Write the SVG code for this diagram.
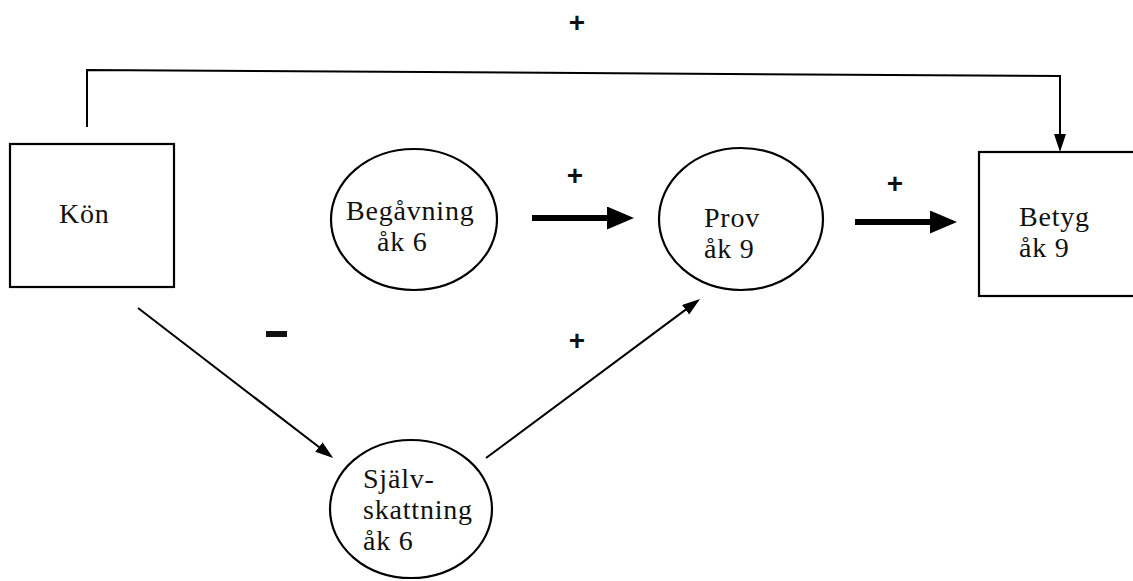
<svg xmlns="http://www.w3.org/2000/svg" width="1133" height="581" viewBox="0 0 1133 581">
<defs>
<style>
.box{fill:#fff;stroke:#000;stroke-width:2.2}
.lbl{font-family:"Liberation Serif","Times New Roman",serif;font-size:28px;letter-spacing:0.8px;fill:#111}
.sign{font-family:"Liberation Sans",Arial,sans-serif;font-size:28px;font-weight:bold;fill:#111;text-anchor:middle}
.thin{fill:none;stroke:#000;stroke-width:2}
.thick{fill:none;stroke:#000;stroke-width:6}
</style>
<marker id="ah" viewBox="0 0 18 12" refX="14" refY="6" markerWidth="18" markerHeight="12" markerUnits="userSpaceOnUse" orient="auto">
<path d="M0,0 L18,6 L0,12 Z" fill="#000"/>
</marker>
<marker id="ahb" viewBox="0 0 27 23" refX="7" refY="11.5" markerWidth="27" markerHeight="23" markerUnits="userSpaceOnUse" orient="auto">
<path d="M0,0 L27,11.5 L0,23 Z" fill="#000"/>
</marker>
</defs>
<rect width="1133" height="581" fill="#fff"/>
<g id="connectors">
<path class="thin" d="M87,127 L87,70 L1060,76 L1060,148" marker-end="url(#ah)"/>
<line class="thick" x1="532" y1="218" x2="614" y2="218" marker-end="url(#ahb)"/>
<line class="thick" x1="855" y1="222" x2="937" y2="222" marker-end="url(#ahb)"/>
<line class="thin" x1="138" y1="308" x2="330" y2="455.5" marker-end="url(#ah)"/>
<line class="thin" x1="486" y1="458" x2="696.8" y2="301.4" marker-end="url(#ah)"/>
<text class="sign" x="577" y="32">+</text>
<text class="sign" x="575" y="185">+</text>
<text class="sign" x="895" y="193">+</text>
<text class="sign" x="577" y="350">+</text>
<rect x="266" y="331" width="21" height="6" fill="#111"/>
</g>
<g id="kon">
<rect class="box" x="10" y="144" width="164" height="143"/>
<text class="lbl" x="59" y="223">Kön</text>
</g>
<g id="begavning">
<ellipse class="box" cx="414" cy="219.5" rx="83" ry="70.5"/>
<text class="lbl" x="346" y="220">Begåvning</text>
<text class="lbl" x="377" y="251">åk 6</text>
</g>
<g id="prov">
<ellipse class="box" cx="741" cy="219" rx="82" ry="71"/>
<text class="lbl" x="704" y="227">Prov</text>
<text class="lbl" x="704" y="258">åk 9</text>
</g>
<g id="betyg">
<rect class="box" x="979" y="152" width="170" height="144"/>
<text class="lbl" x="1019" y="226">Betyg</text>
<text class="lbl" x="1019" y="257">åk 9</text>
</g>
<g id="sjalvskattning">
<ellipse class="box" cx="411" cy="509" rx="81" ry="69"/>
<text class="lbl" x="363" y="488">Själv-</text>
<text class="lbl" x="363" y="519">skattning</text>
<text class="lbl" x="363" y="550">åk 6</text>
</g>
</svg>
